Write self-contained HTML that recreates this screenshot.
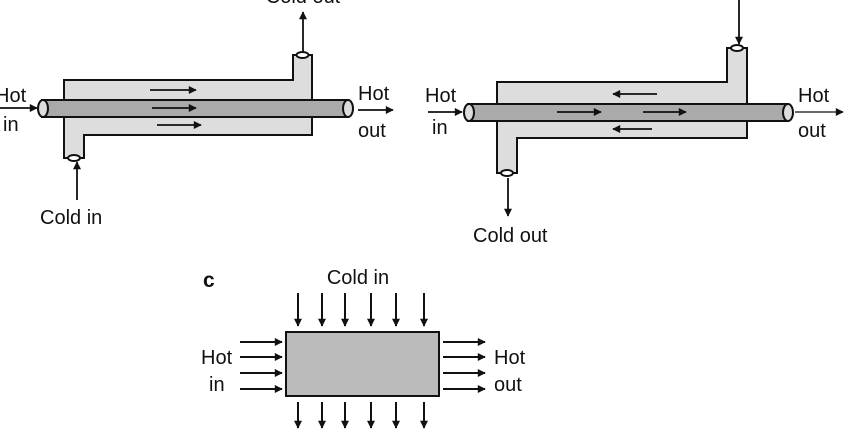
<!DOCTYPE html>
<html><head><style>body{margin:0;background:#fff}svg{display:block}</style></head><body>
<svg width="850" height="436" viewBox="0 0 850 436" xmlns="http://www.w3.org/2000/svg" font-family="Liberation Sans, sans-serif" font-size="20" fill="#111">
<defs>
<marker id="a" viewBox="0 0 10 10" refX="9" refY="5" markerWidth="12" markerHeight="8" markerUnits="userSpaceOnUse" orient="auto"><path d="M0,0L10,5L0,10z" fill="#111"/></marker>
</defs>
<g stroke="#111" stroke-width="2">
<!-- Panel A -->
<path d="M64,80H293V55H312V135H84V158H64Z" fill="#ddd"/>
<rect x="42" y="100" width="306" height="17" fill="#aaa"/>
<ellipse cx="43" cy="108.5" rx="5" ry="8.5" fill="#ddd"/>
<ellipse cx="348" cy="108.5" rx="5" ry="8.5" fill="#ddd"/>
<ellipse cx="302.5" cy="55" rx="6" ry="3" fill="#fff"/>
<ellipse cx="74" cy="158" rx="6" ry="3" fill="#fff"/>
<g stroke-width="1.8" marker-end="url(#a)">
<line x1="150" y1="90" x2="196" y2="90"/>
<line x1="152" y1="108" x2="196" y2="108"/>
<line x1="157" y1="125" x2="201" y2="125"/>
<line x1="303" y1="52" x2="303" y2="12"/>
<line x1="77" y1="200" x2="77" y2="162"/>
<line x1="0" y1="108" x2="37" y2="108"/>
<line x1="358" y1="110" x2="393" y2="110"/>
</g>
<!-- Panel B -->
<path d="M497,82H727V48H747V138H517V173H497Z" fill="#ddd"/>
<rect x="468" y="104" width="320" height="17" fill="#aaa"/>
<ellipse cx="469" cy="112.5" rx="5" ry="8.5" fill="#ddd"/>
<ellipse cx="788" cy="112.5" rx="5" ry="8.5" fill="#ddd"/>
<ellipse cx="737" cy="48" rx="6" ry="3" fill="#fff"/>
<ellipse cx="507" cy="173" rx="6" ry="3" fill="#fff"/>
<g stroke-width="1.8" marker-end="url(#a)">
<line x1="657" y1="94" x2="613" y2="94"/>
<line x1="557" y1="112" x2="601" y2="112"/>
<line x1="643" y1="112" x2="686" y2="112"/>
<line x1="652" y1="129" x2="613" y2="129"/>
<line x1="739" y1="0" x2="739" y2="44"/>
<line x1="508" y1="178" x2="508" y2="216"/>
<line x1="428" y1="112" x2="462" y2="112"/>
<line x1="795" y1="112" x2="843" y2="112" stroke="#555"/>
</g>
<!-- Panel C -->
<rect x="286" y="332" width="153" height="64" fill="#bbb"/>
<g stroke-width="2" marker-end="url(#a)">
<line x1="298" y1="293" x2="298" y2="326"/><line x1="322" y1="293" x2="322" y2="326"/><line x1="345" y1="293" x2="345" y2="326"/><line x1="371" y1="293" x2="371" y2="326"/><line x1="396" y1="293" x2="396" y2="326"/><line x1="424" y1="293" x2="424" y2="326"/>
<line x1="298" y1="402" x2="298" y2="428"/><line x1="322" y1="402" x2="322" y2="428"/><line x1="345" y1="402" x2="345" y2="428"/><line x1="371" y1="402" x2="371" y2="428"/><line x1="396" y1="402" x2="396" y2="428"/><line x1="424" y1="402" x2="424" y2="428"/>
<line x1="240" y1="342" x2="282" y2="342"/><line x1="240" y1="357" x2="282" y2="357"/><line x1="240" y1="373" x2="282" y2="373"/><line x1="240" y1="389" x2="282" y2="389"/>
<line x1="443" y1="342" x2="485" y2="342"/><line x1="443" y1="357" x2="485" y2="357"/><line x1="443" y1="373" x2="485" y2="373"/><line x1="443" y1="389" x2="485" y2="389"/>
</g>
</g>
<g stroke="none">
<text x="303" y="3" text-anchor="middle">Cold out</text>
<text x="-5" y="102">Hot</text><text x="3" y="131">in</text>
<text x="40" y="224">Cold in</text>
<text x="358" y="100">Hot</text><text x="358" y="137">out</text>
<text x="425" y="102">Hot</text><text x="432" y="134">in</text>
<text x="798" y="102">Hot</text><text x="798" y="137">out</text>
<text x="473" y="242">Cold out</text>
<text x="203" y="287" font-weight="bold" font-size="21">c</text>
<text x="358" y="284" text-anchor="middle">Cold in</text>
<text x="201" y="364">Hot</text><text x="209" y="391">in</text>
<text x="494" y="364">Hot</text><text x="494" y="391">out</text>
</g>
</svg>
</body></html>
